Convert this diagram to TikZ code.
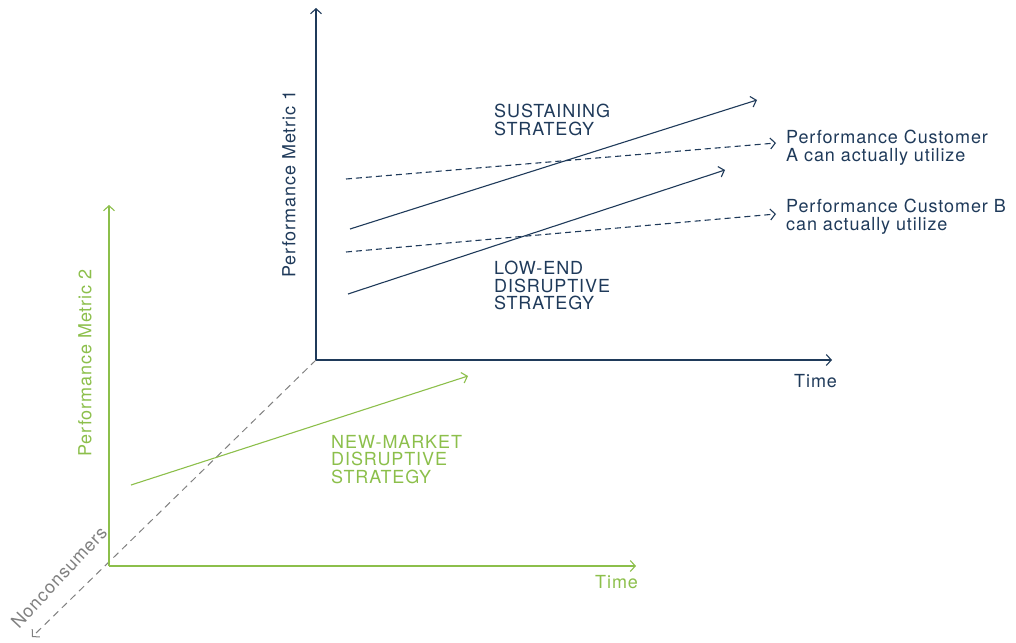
\documentclass[tikz,border=0pt]{standalone}
\usepackage{fontspec}
\setmainfont{TeX Gyre Heros}
\usetikzlibrary{arrows.meta}
\definecolor{navy}{HTML}{1F3A5A}
\definecolor{lgreen}{HTML}{8CBF4B}
\definecolor{dgray}{HTML}{808080}
\tikzset{
  ax/.style={line width=1.3pt, -{Straight Barb[length=5pt,width=11pt,line width=1.1pt]}},
  ln/.style={line width=1.1pt, -{Straight Barb[length=5pt,width=11pt,line width=1.1pt]}},
  dl/.style={ln, dash pattern=on 6pt off 4pt},
  lbl/.style={font=\fontsize{18}{17.5}\selectfont\addfontfeatures{LetterSpace=5}, align=left, inner sep=0pt},
}
\begin{document}
\begin{tikzpicture}[x=1pt,y=-1pt]
\useasboundingbox (0,0) rectangle (1016,642);
% coordinates
\coordinate (O1) at (316,360);
\coordinate (Y1) at (316,8);
\coordinate (X1) at (832,360);
\coordinate (O2) at (109,566);
\coordinate (Y2) at (109,205);
\coordinate (X2) at (636,566);
\coordinate (Z) at (32,637);
\coordinate (s1) at (350,229); \coordinate (s2) at (757,100);
\coordinate (l1) at (348,294); \coordinate (l2) at (725,170);
\coordinate (a1) at (346,179); \coordinate (a2) at (776,143);
\coordinate (b1) at (346,252); \coordinate (b2) at (776,214);
\coordinate (g1) at (131,485); \coordinate (g2) at (468,376);
% gray depth axis
\draw[dgray, line width=1pt, dash pattern=on 7pt off 5pt, -{Straight Barb[length=5pt,width=11pt,line width=1pt]}] (O1) -- (Z);
% navy axes
\draw[navy, ax] (O1) -- (Y1);
\draw[navy, ax] (O1) -- (X1);
% green axes
\draw[lgreen, ax] (O2) -- (Y2);
\draw[lgreen, ax] (O2) -- (X2);
% lines
\draw[navy, ln] (s1) -- (s2);
\draw[navy, ln] (l1) -- (l2);
\draw[navy, dl] (a1) -- (a2);
\draw[navy, dl] (b1) -- (b2);
\draw[lgreen, ln] (g1) -- (g2);
% labels
\node[lbl, navy, anchor=north west] (tsus) at (494,104) {SUSTAINING\\STRATEGY};
\node[lbl, navy, anchor=north west] (tlow) at (494,261) {LOW-END\\DISRUPTIVE\\STRATEGY};
\node[lbl, navy, anchor=north west] (tA) at (786,130) {Performance Customer\\A can actually utilize};
\node[lbl, navy, anchor=north west] (tB) at (786,199) {Performance Customer B\\can actually utilize};
\node[lbl, navy, anchor=north west] (tT1) at (794,374) {Time};
\node[lbl, lgreen, anchor=north west] (tT2) at (595,575) {Time};
\node[lbl, lgreen, anchor=north west] (tnm) at (331,435) {NEW-MARKET\\DISRUPTIVE\\STRATEGY};
\node[lbl, navy, rotate=90] (tm1) at (289,184) {Performance Metric 1};
\node[lbl, lgreen, rotate=90] (tm2) at (85,363) {Performance Metric 2};
\node[lbl, dgray, rotate=47] (tnc) at (59,577) {Nonconsumers};
\end{tikzpicture}
\end{document}
